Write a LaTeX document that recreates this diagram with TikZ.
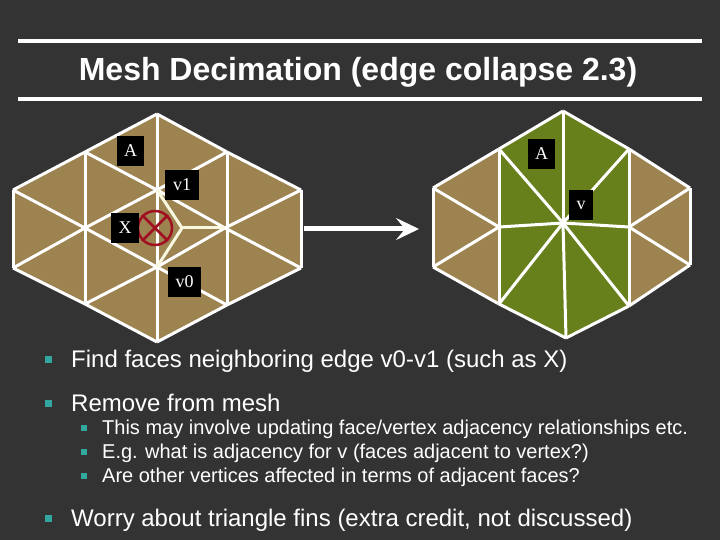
\documentclass[tikz,border=0pt]{standalone}
\usepackage{fontspec}
\setmainfont{Liberation Sans}
\newfontfamily\labfont{Liberation Serif}
\usetikzlibrary{arrows.meta}
\definecolor{slidebg}{HTML}{333333}
\definecolor{facetan}{HTML}{9C8350}
\definecolor{facegreen}{HTML}{67801C}
\definecolor{crossred}{HTML}{A01020}
\definecolor{bullteal}{HTML}{33A6A0}
\definecolor{edgecream}{HTML}{F8F8E0}
\tikzset{
  edge/.style={white,line width=3pt},
  lab/.style={fill=black,text=white,font=\labfont\fontsize{18}{18}\selectfont,minimum height=30pt,inner sep=0pt},
  mainitem/.style={anchor=base west,text=white,inner sep=0pt,font=\fontsize{24}{24}\selectfont},
  subitem/.style={anchor=base west,text=white,inner sep=0pt,font=\fontsize{20}{20}\selectfont},
  bull/.style={fill=bullteal,inner sep=0pt,minimum size=#1},
}
\begin{document}
\begin{tikzpicture}[x=1pt,y=-1pt]
\fill[slidebg] (0,0) rectangle (720,540);
\useasboundingbox (0,0) rectangle (720,540);
% title
\coordinate (ruleAl) at (18,41); \coordinate (ruleAr) at (702,41);
\coordinate (ruleBl) at (18,99); \coordinate (ruleBr) at (702,99);
\draw[white,line width=4pt] (ruleAl)--(ruleAr) (ruleBl)--(ruleBr);
\node[text=white,inner sep=0pt,anchor=base,font=\bfseries\fontsize{32}{32}\selectfont] (title) at (358,81) {Mesh Decimation (edge collapse 2.3)};
% left mesh
\foreach \n/\x/\y in {lt/13/190,lb/13/268,ul/85/152,cl/85/228,ll/85/304,top/157/114,vone/157/190,vzero/157/267,bot/157/342,ur/227/152,cr/225/228,lr/227/305,rt/301/190,rb/301/268,mid/182/228}
  \coordinate (\n) at (\x,\y);
\fill[facetan] (lt)--(ul)--(top)--(ur)--(rt)--(rb)--(lr)--(bot)--(ll)--(lb)--cycle;
\foreach \a/\b in {lt/ul,ul/top,top/ur,ur/rt,rt/rb,rb/lr,lr/bot,bot/ll,ll/lb,lb/lt,ul/ll,top/bot,ur/lr,lt/cl,lb/cl,ul/vone,cl/vone,cl/vzero,ll/vzero,vone/ur,vone/cr,vzero/cr,vzero/lr,cr/rt,cr/rb}
  \draw[edge] (\a)--(\b);
\foreach \a/\b in {vone/mid,vzero/mid,mid/cr}
  \draw[edgecream,line width=3pt] (\a)--(\b);
\node[draw=crossred,line width=2.5pt,circle,inner sep=0pt,minimum size=34pt] (cross) at (155,228) {};
\draw[crossred,line width=2.5pt] (cross.45)--(cross.225) (cross.135)--(cross.315);
\node[lab,minimum width=27pt] (aleft) at (130.5,151) {A};
\node[lab,minimum width=34pt] (vonelab) at (182,185) {v1};
\node[lab,minimum width=28pt] (xlab) at (125,228) {X};
\node[lab,minimum width=33pt] (vzerolab) at (184.5,282) {v0};
% right mesh
\foreach \n/\x/\y in {Rlt/433/188,Rlb/433/267,Rul/499/149,Rcl/499/227,Rll/499/304,Rtop/563/111,Rc/563/223,Rbot/566/338,Rur/629/149,Rcr/629/227,Rlr/629/306,Rrt/690/188,Rrb/690/265}
  \coordinate (\n) at (\x,\y);
\fill[facetan] (Rlt)--(Rul)--(Rtop)--(Rur)--(Rrt)--(Rrb)--(Rlr)--(Rbot)--(Rll)--(Rlb)--cycle;
\fill[facegreen] (Rul)--(Rtop)--(Rur)--(Rcr)--(Rlr)--(Rbot)--(Rll)--(Rcl)--cycle;
\foreach \a/\b in {Rlt/Rul,Rul/Rtop,Rtop/Rur,Rur/Rrt,Rrt/Rrb,Rrb/Rlr,Rlr/Rbot,Rbot/Rll,Rll/Rlb,Rlb/Rlt,Rul/Rll,Rur/Rlr,Rlt/Rcl,Rlb/Rcl,Rcr/Rrt,Rcr/Rrb,Rtop/Rc,Rul/Rc,Rur/Rc,Rcl/Rc,Rcr/Rc,Rll/Rc,Rlr/Rc,Rbot/Rc}
  \draw[edge] (\a)--(\b);
\node[lab,minimum width=27pt] (aright) at (541.5,154) {A};
\node[lab,minimum width=24pt] (vlab) at (581,205) {v};
% arrow
\coordinate (arrfrom) at (304,229); \coordinate (arrto) at (419,229);
\draw[white,line width=5pt,-{Stealth[length=23pt,width=22pt,inset=9pt]}] (arrfrom)--(arrto);
% text
\foreach \y/\txt in {367/Find faces neighboring edge v0-v1 (such as X),411/Remove from mesh,526/{Worry about triangle fins (extra credit, not discussed)}}
  {\node[bull=7pt] at (48.5,\y-8) {};\node[mainitem] at (71,\y) {\txt};}
\foreach \y/\txt in {434/{This may involve updating face/vertex adjacency relationships etc.},458/E.g. what is adjacency for v (faces adjacent to vertex?),482/Are other vertices affected in terms of adjacent faces?}
  {\node[bull=6pt] at (84,\y-6) {};\node[subitem] at (102,\y) {\txt};}
\end{tikzpicture}
\end{document}
